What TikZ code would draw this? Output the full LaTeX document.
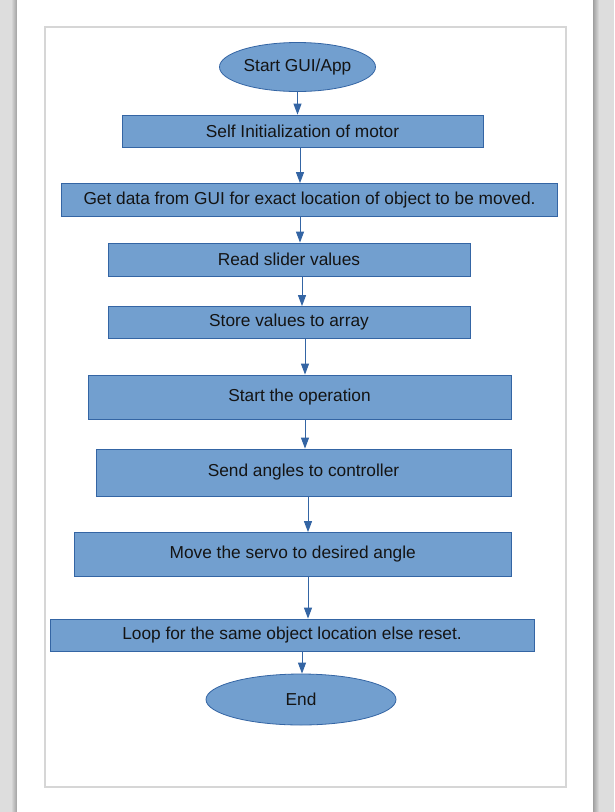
\documentclass[tikz,border=0pt]{standalone}
\usepackage{fontspec}
\setmainfont{Liberation Sans}
\usepackage{xcolor}
\usetikzlibrary{shapes.geometric}
\usetikzlibrary{arrows.meta}

\definecolor{boxfill}{HTML}{729FCF}
\definecolor{boxline}{HTML}{3465A4}
\definecolor{deskgray}{HTML}{DDDDDD}
\definecolor{framegray}{HTML}{D6D6D6}
\definecolor{txt}{HTML}{141414}

\tikzset{
    stepbox/.style={draw=boxline, fill=boxfill, line width=0.8pt, inner sep=0pt,
        text=txt, font=\fontsize{17.3}{20}\selectfont},
    terminal/.style={stepbox, ellipse},
    flow/.style={draw=boxline, line width=1pt, -{Triangle[length=11pt,width=8pt]}}
}

\begin{document}
\begin{tikzpicture}[x=1pt, y=-1pt]
        \useasboundingbox (0,0) rectangle (614,812);

        %BACKGROUND
        \fill[deskgray] (0,0) rectangle (614,812);
        \shade[left color=deskgray, right color=gray!75] (11,0) rectangle (17,812);
        \shade[left color=gray!75, right color=deskgray] (593,0) rectangle (599,812);
        \fill[white] (17,0) rectangle (593,812);
        \draw[framegray, line width=1.2pt] (45,27) rectangle (566,787);

        %NODES
        \node[terminal, minimum width=156pt, minimum height=49pt] (start) at (297.5,67) {Start GUI/App};
        \node[stepbox, minimum width=361pt, minimum height=32pt] (init) at (302.5,131) {Self Initialization of motor};
        \node[stepbox, minimum width=496pt, minimum height=33pt] (getdata) at (309.5,200) {Get data from GUI for exact location of object to be moved.};
        \node[stepbox, minimum width=362pt, minimum height=33pt] (slider) at (289,259.5) {Read slider values};
        \node[stepbox, minimum width=362pt, minimum height=32pt] (store) at (289,322.5) {Store values to array};
        \node[stepbox, minimum width=423pt, minimum height=44pt] (operate) at (299.5,397) {Start the operation};
        \node[stepbox, minimum width=415pt, minimum height=47pt] (send) at (303.5,472.5) {Send angles to controller};
        \node[stepbox, minimum width=437pt, minimum height=44pt] (servo) at (292.75,554.5) {Move the servo to desired angle};
        \node[stepbox, minimum width=484pt, minimum height=32.5pt] (loop) at (292,635.25) {Loop for the same object location else reset.};
        \node[terminal, minimum width=190pt, minimum height=51pt] (end) at (301,699.5) {End};

        %ARROWS
        \draw[flow] (start.south) -- (start.south |- init.north);
        \draw[flow] ([xshift=-2.5pt]init.south) -- ([xshift=-2.5pt]init.south |- getdata.north);
        \draw[flow] ([xshift=-9.5pt]getdata.south) -- ([xshift=-9.5pt]getdata.south |- slider.north);
        \draw[flow] ([xshift=13pt]slider.south) -- ([xshift=13pt]slider.south |- store.north);
        \draw[flow] ([xshift=16pt]store.south) -- ([xshift=16pt]store.south |- operate.north);
        \draw[flow] ([xshift=5.5pt]operate.south) -- ([xshift=5.5pt]operate.south |- send.north);
        \draw[flow] ([xshift=4.5pt]send.south) -- ([xshift=4.5pt]send.south |- servo.north);
        \draw[flow] ([xshift=15.25pt]servo.south) -- ([xshift=15.25pt]servo.south |- loop.north);
        \draw[flow] ([xshift=10pt]loop.south) -- ([xshift=10pt]loop.south |- end.north);
\end{tikzpicture}
\end{document}
